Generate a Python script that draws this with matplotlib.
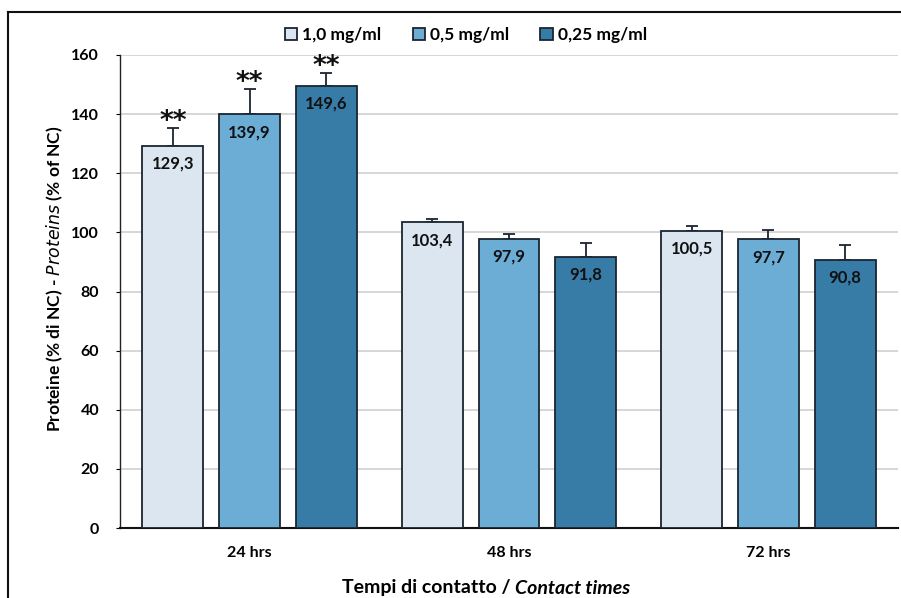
import matplotlib
matplotlib.use("Agg")
import matplotlib.pyplot as plt
from matplotlib.lines import Line2D
import numpy as np

plt.rcParams['font.family'] = ['Lato', 'DejaVu Sans']

categories = ["24 hrs", "48 hrs", "72 hrs"]
series_names = ["1,0 mg/ml", "0,5 mg/ml", "0,25 mg/ml"]
values = {
    "1,0 mg/ml": [129.3, 103.4, 100.5],
    "0,5 mg/ml": [139.9, 97.9, 97.7],
    "0,25 mg/ml": [149.6, 91.8, 90.8],
}
errors = {
    "1,0 mg/ml": [6.0, 1.2, 1.8],
    "0,5 mg/ml": [8.6, 1.7, 3.2],
    "0,25 mg/ml": [4.4, 4.6, 5.0],
}
stars = {
    "1,0 mg/ml": ["**", "", ""],
    "0,5 mg/ml": ["**", "", ""],
    "0,25 mg/ml": ["**", "", ""],
}
colors = ["#dce6f0", "#6badd5", "#377ba7"]
yticks = [0, 20, 40, 60, 80, 100, 120, 140, 160]

fig = plt.figure(figsize=(9.01, 5.98), dpi=100)
ax = fig.add_axes([120/901, 1-528/598, (898-120)/901, (528-55)/598])

x = np.arange(len(categories))
step = 0.296
width = 0.235
for i, name in enumerate(series_names):
    xs = x + (i - 1) * step
    vals = values[name]
    errs = errors[name]
    ax.bar(xs, vals, width, color=colors[i], edgecolor="#1b2530", linewidth=1.3,
           label=name, zorder=3)
    ax.errorbar(xs, vals, yerr=[np.zeros(len(errs)), errs], fmt="none",
                ecolor="#1b2530", elinewidth=1.3, capsize=4, capthick=1.3, zorder=2)
    for xi, v, e, s in zip(xs, vals, errs, stars[name]):
        ax.annotate(f"{v:.1f}".replace(".", ","), (xi, v), xytext=(0, -13),
                    textcoords="offset points", ha="center", va="center",
                    fontsize=12, fontweight="bold", color="#111111", zorder=4)
        if s:
            ax.annotate(s, (xi, v + e), xytext=(0, -5), textcoords="offset points",
                        ha="center", va="bottom", fontsize=19, fontweight="bold",
                        color="#111111", family="DejaVu Sans")

ax.set_xlim(-0.5, 2.5)
ax.set_ylim(0, 160)
ax.set_yticks(yticks)
ax.set_xticks(x)
ax.set_xticklabels(categories)
ax.tick_params(axis="x", length=0, pad=13, labelsize=11.5)
ax.tick_params(axis="y", length=3, direction="out", pad=12, labelsize=11.5)
for lab in ax.get_xticklabels() + ax.get_yticklabels():
    lab.set_fontweight("bold")
ax.grid(axis="y", color="#d0d0d0", linewidth=1.2, zorder=0)
ax.set_axisbelow(True)
for sp in ["top", "right"]:
    ax.spines[sp].set_visible(False)
ax.spines["left"].set_color("#222222")
ax.spines["left"].set_linewidth(1.0)
ax.spines["bottom"].set_color("#111111")
ax.spines["bottom"].set_linewidth(1.5)

ax.set_ylabel(r"Proteine (% di NC) - $\bf{\it{Proteins}}$ (% of NC)",
              fontsize=12.5, fontweight="bold")
ax.yaxis.set_label_coords((65-120)/778, (528-279)/473)
fig.text(515/901, 1-588/598, "Tempi di contatto / ", ha="right", va="center",
         fontsize=14, fontweight="bold")
fig.text(515/901, 1-588/598, "Contact times", ha="left", va="center",
         fontsize=14, fontweight="bold", style="italic")

leg = ax.legend(loc="center", bbox_to_anchor=((466-120)/778, 1 + (55-35)/473),
                ncol=3, frameon=False, fontsize=12.5, handlelength=0.7,
                handleheight=0.7, handletextpad=0.3, columnspacing=1.8)
for t in leg.get_texts():
    t.set_fontweight("bold")

# outer frame
fig.add_artist(Line2D([8/901, 1], [1-12/598, 1-12/598], color="#111111", linewidth=1.5,
                      transform=fig.transFigure))
fig.add_artist(Line2D([8/901, 8/901], [0, 1-12/598], color="#111111", linewidth=1.5,
                      transform=fig.transFigure))

fig.savefig("out.png", dpi=100, facecolor="white")
